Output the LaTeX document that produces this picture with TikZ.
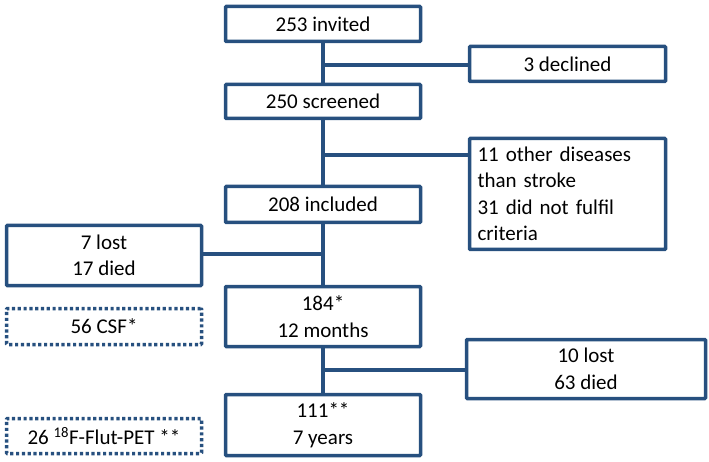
\documentclass[tikz,border=0pt]{standalone}
\usepackage{fontspec}
\setmainfont{Carlito}
\usetikzlibrary{calc}
\definecolor{flowblue}{HTML}{27507F}
\begin{document}
\begin{tikzpicture}[x=1pt,y=-1pt,
  every node/.style={font=\fontsize{21}{26.5}\selectfont, text=black},
  box/.style={draw=flowblue, line width=3.5pt, fill=white, inner sep=0pt, align=center, rounded corners=0.8pt},
  dotbox/.style={box, dash pattern=on 3.2pt off 2.6pt, line cap=butt},
  link/.style={draw=flowblue, line width=3.5pt}]
\useasboundingbox (0,0) rectangle (709,462);
\node[box, minimum width=195pt, minimum height=35pt] (inv) at (323,24) {253 invited};
\node[box, minimum width=196pt, minimum height=35pt] (decl) at (567.5,64) {3 declined};
\node[box, minimum width=195pt, minimum height=34pt] (scr) at (323,101.5) {250 screened};
\node[box, minimum width=196pt, minimum height=111pt, align=left, text width=180pt] (oth) at (567.5,194) {11 other diseases\\than stroke\\31 did not fulfil\\criteria};
\node[box, minimum width=195pt, minimum height=36pt] (incl) at (323,204.5) {208 included};
\node[box, minimum width=195pt, minimum height=60pt] (lostA) at (104,255.5) {7 lost\\17 died};
\node[box, minimum width=195pt, minimum height=60pt] (mon) at (323,316.5) {184*\\12 months};
\node[dotbox, minimum width=195pt, minimum height=36pt] (csf) at (104,326.5) {56 CSF*};
\node[box, minimum width=239pt, minimum height=59pt] (lostB) at (586,369) {10 lost\\63 died};
\node[box, minimum width=195pt, minimum height=61pt] (yrs) at (323,425) {111**\\7 years};
\node[dotbox, minimum width=195pt, minimum height=35pt] (pet) at (104,436) {26 \textsuperscript{18}F-Flut-PET **};
\coordinate (jA) at (323,65);
\coordinate (jB) at (323,155);
\coordinate (jC) at (323,254);
\coordinate (jD) at (323,370);
\draw[link] (inv.south) -- (scr.north);
\draw[link] (scr.south) -- (incl.north);
\draw[link] (incl.south) -- (mon.north);
\draw[link] (mon.south) -- (yrs.north);
\draw[link] (jA) -- (jA -| decl.west);
\draw[link] (jB) -- (jB -| oth.west);
\draw[link] (jC) -- (jC -| lostA.east);
\draw[link] (jD) -- (jD -| lostB.west);
\end{tikzpicture}
\end{document}
